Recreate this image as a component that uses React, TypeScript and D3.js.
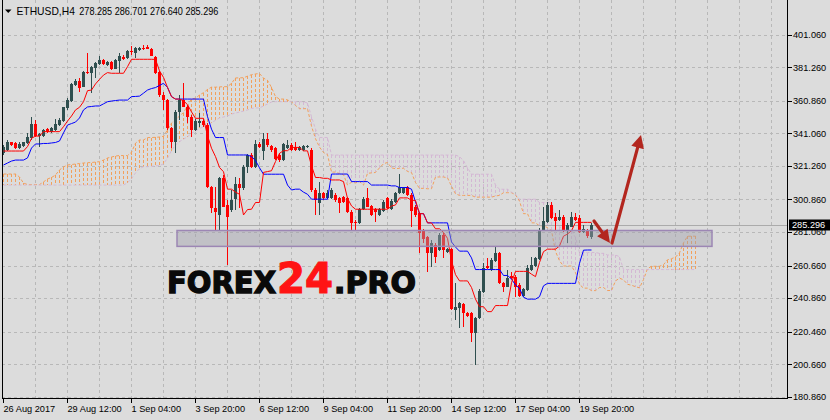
import React, { useEffect } from 'react';
import * as d3 from 'd3';

const W = 830;
const H = 420;

// ---- candle data (H4 bars) ----
const open = [328.9,330.9,335.5,335.0,331.9,333.4,335.0,338.0,346.5,339.4,339.4,343.5,342.1,343.1,346.1,348.8,356.3,360.9,370.5,373.1,369.4,378.6,377.6,380.6,383.0,385.7,382.6,384.7,380.4,385.3,387.7,386.7,391.3,390.1,391.7,393.2,393.4,392.2,387.7,378.6,364.4,361.3,344.1,336.0,354.2,361.3,357.3,351.2,343.1,347.5,348.8,346.1,308.6,295.4,291.4,313.7,297.4,294.4,300.9,310.2,307.6,320.4,327.9,320.8,334.6,330.5,337.6,333.4,331.9,327.9,324.8,331.9,334.0,333.0,330.9,330.9,332.5,330.9,306.6,298.5,305.0,301.5,301.5,303.5,301.5,302.1,301.5,293.4,287.3,286.3,294.8,301.5,296.8,294.8,291.4,294.0,301.5,294.8,299.5,304.6,304.6,308.2,303.6,296.5,292.8,282.3,277.8,268.1,273.1,270.1,279.2,269.1,270.5,233.6,234.6,237.2,232.0,231.6,219.8,228.5,244.7,260.4,257.9,263.6,268.5,250.2,247.8,254.3,253.5,248.8,242.1,245.8,257.9,260.4,264.4,282.3,287.3,297.5,290.4,288.3,290.4,282.3,284.3,290.4,289.4,281.2,282.3,278.285];
const high = [334.0,337.0,336.0,335.5,335.5,336.0,341.1,350.8,349.2,341.5,343.5,344.1,344.7,349.6,350.2,357.3,362.3,371.9,373.9,374.5,379.2,389.7,382.0,384.7,388.1,386.1,384.9,385.3,386.1,389.7,388.5,391.7,394.2,393.4,393.8,394.8,394.8,392.8,388.1,379.2,366.4,361.7,345.1,355.2,364.4,371.5,358.3,352.2,349.6,353.2,349.6,347.1,309.0,308.6,314.7,315.7,300.5,306.6,314.7,313.7,321.8,328.5,328.9,337.0,336.0,341.1,341.1,334.0,333.0,328.9,335.0,337.0,335.0,336.0,333.4,334.0,334.0,331.9,307.6,311.6,305.6,306.6,307.6,304.6,302.5,302.9,302.5,294.4,288.3,295.4,302.1,307.6,297.4,295.4,295.4,300.5,302.5,300.9,305.6,316.3,308.6,309.0,304.6,297.5,293.4,282.7,278.6,276.2,274.2,280.2,280.2,271.1,271.1,249.8,238.6,238.0,232.6,232.6,229.5,246.2,262.0,265.0,265.0,272.5,269.1,250.8,257.9,256.9,254.9,249.8,246.8,261.0,265.6,266.0,283.3,296.5,299.5,299.5,292.4,294.4,291.4,286.3,293.4,292.4,291.4,285.3,282.7,286.701];
const low = [327.9,330.5,333.4,331.3,331.3,333.0,334.6,337.0,339.0,333.0,339.0,341.5,341.5,342.7,345.5,348.1,355.3,360.3,369.9,366.4,369.0,377.2,365.4,374.5,382.6,382.4,382.0,379.6,380.0,377.6,385.7,386.1,388.7,386.7,391.3,391.7,392.2,388.1,377.2,363.3,355.3,343.1,331.9,328.9,349.2,356.9,347.1,338.6,342.7,345.1,345.1,307.6,292.4,282.2,282.2,296.0,260.9,293.4,294.4,295.4,306.6,316.7,319.8,319.8,331.9,324.8,333.0,329.9,324.8,323.8,324.4,331.3,330.5,330.5,330.5,330.5,331.9,305.6,291.4,291.4,300.5,300.9,300.9,299.5,292.8,298.5,292.8,282.2,282.2,285.9,294.4,296.0,290.8,287.3,290.8,293.4,294.8,294.4,298.9,304.2,304.2,302.9,284.3,290.4,268.1,274.2,256.9,260.0,262.0,269.7,265.0,268.5,233.6,227.5,222.4,223.4,229.1,214.3,200.1,227.9,244.1,258.3,257.5,263.0,249.4,244.7,247.4,252.2,241.7,241.7,241.7,245.4,257.5,260.0,264.0,281.9,286.7,288.7,282.3,287.9,281.2,274.2,283.9,287.9,280.6,280.2,277.2,276.640];
const close = [333.0,336.0,334.0,331.9,334.6,335.5,338.6,346.5,339.4,340.6,343.1,342.1,344.1,346.7,349.2,356.9,361.3,371.1,373.1,368.4,378.6,378.0,381.2,384.0,385.7,383.0,384.2,380.0,385.7,388.1,386.1,391.3,390.9,392.8,393.2,392.2,392.6,388.3,377.6,364.4,361.3,344.1,336.0,354.2,361.3,357.3,351.2,343.1,348.8,348.8,346.1,308.6,295.4,293.4,313.7,296.4,290.4,300.5,310.2,307.6,320.8,327.9,320.8,334.6,333.0,337.6,334.0,330.9,325.2,324.8,334.4,334.0,330.9,330.9,332.5,333.4,333.4,306.6,300.5,304.6,301.5,304.6,306.6,300.5,298.9,299.5,293.4,286.3,286.3,294.8,300.9,296.4,291.4,293.4,294.8,299.5,295.4,300.1,305.0,308.2,307.6,303.6,294.0,291.4,280.2,276.6,268.1,274.6,266.0,279.2,270.1,270.5,234.0,235.6,237.6,231.6,229.9,219.8,228.5,245.4,258.9,258.9,264.0,268.5,249.8,247.8,252.9,252.9,247.8,242.1,246.2,258.9,261.0,265.0,282.3,287.9,297.5,289.4,287.9,290.4,281.9,285.3,290.4,288.3,281.2,282.7,278.6,285.296];

// ---- Ichimoku lines ----
const tenkan = [330.3,330.3,330.3,330.3,330.3,330.3,333.0,338.0,339.4,339.4,
  342.1,342.1,342.1,342.1,342.1,345.1,348.5,351.6,355.3,356.9,
  360.3,367.0,367.4,371.1,373.9,376.5,378.0,377.6,377.6,377.6,
  377.6,381.6,386.1,386.1,386.1,386.1,386.1,386.1,386.0,379.1,
  375.1,369.0,363.4,361.9,361.9,360.9,358.5,354.1,350.2,350.2,
  350.2,339.6,332.0,326.9,320.3,317.7,307.1,307.1,305.3,304.0,
  291.4,294.7,294.9,299.0,299.0,317.3,317.8,318.3,323.9,328.9,
  330.5,330.5,332.5,332.5,332.5,330.4,330.4,321.3,314.2,314.2,
  313.7,313.7,312.7,312.7,312.7,311.7,301.5,296.9,294.9,294.9,
  294.9,294.9,294.9,294.9,294.9,294.9,294.9,296.8,297.5,301.8,
  301.8,301.8,300.3,300.3,292.2,292.2,286.6,286.6,283.0,283.0,
  280.8,277.2,263.5,255.1,251.3,251.3,251.3,247.3,240.2,235.6,
  235.6,232.6,232.6,236.3,236.3,236.3,236.3,250.2,257.1,257.1,
  257.1,257.1,255.4,253.9,262.5,269.1,270.6,270.6,270.6,272.5,
  278.5,279.8,281.8,286.9,286.9,286.9,286.9,286.9];
const kijun = [321.8,323.0,324.2,324.8,324.8,324.8,326.1,332.1,334.6,334.6,
  334.9,334.9,335.2,335.5,336.4,341.3,346.1,347.0,347.9,350.4,
  355.3,357.1,357.4,357.7,357.7,359.0,360.3,360.7,361.0,361.3,
  361.3,361.3,363.4,363.5,363.7,365.5,367.4,368.3,368.9,370.2,
  371.5,369.0,363.4,361.9,361.9,361.9,361.9,361.9,361.9,361.9,
  361.9,351.2,343.6,338.5,338.5,338.5,327.9,327.9,327.9,327.9,
  327.9,327.9,326.9,324.5,320.1,316.2,316.2,316.2,316.2,316.2,
  316.2,309.6,306.6,307.1,307.1,305.3,304.0,301.0,301.0,301.0,
  301.0,301.0,316.3,316.3,316.3,316.3,316.3,311.7,311.7,311.7,
  311.7,311.7,309.6,309.6,309.6,309.6,309.6,309.1,309.1,308.1,
  308.1,308.1,307.1,299.3,292.2,292.2,286.6,286.6,286.6,286.6,
  286.6,286.6,275.0,271.9,269.4,269.4,269.4,265.3,258.2,258.2,
  258.2,258.2,258.2,258.2,258.2,254.6,254.6,252.4,248.8,246.8,
  241.4,240.2,240.2,240.2,241.7,248.3,249.8,249.8,249.8,249.8,
  249.8,249.8,249.8,249.8,262.0,270.0,270.1,270.1];
// Senkou spans, 26 bars beyond the last candle
const spanA = [316.3,316.3,316.3,316.3,314.5,310.8,309.9,309.9,309.9,309.9,
  311.5,313.3,314.2,315.7,318.8,320.6,321.8,322.1,322.4,322.7,
  323.0,323.2,323.3,323.6,323.8,324.8,
  326.05,326.65,327.25,327.55,327.55,327.55,329.55,335.05,337.0,337.0,
  338.5,338.5,338.65,338.8,339.25,343.2,347.3,349.3,351.6,353.65,
  357.8,362.05,362.4,364.4,365.8,367.75,369.15,369.15,369.3,369.45,
  369.45,371.45,374.75,374.8,374.9,375.8,376.75,377.2,377.45,374.65,
  373.3,369.0,363.4,361.9,361.9,361.4,360.2,358.0,356.05,356.05,
  356.05,345.4,337.8,332.7,329.4,328.1,317.5,317.5,316.6,315.95,
  309.65,311.3,310.9,311.75,309.55,316.75,317.0,317.25,320.05,322.55,
  323.35,320.05,319.55,319.8,319.8,317.85,317.2,311.15,307.6,307.6,
  307.35,307.35,314.5,314.5,314.5,314.0,308.9,304.3,303.3,303.3,
  303.3,303.3,302.25,302.25,302.25,302.25,302.25,302.95,303.3,304.95,
  304.95,304.95,303.7,299.8,292.2,292.2,286.6,286.6,284.8,284.8,
  283.7,281.9,269.25,263.5,260.35,260.35,260.35,256.3,249.2,246.9,
  246.9,245.4,245.4,247.25,247.25,245.45,245.45,251.3,252.95,251.95,
  249.25,248.65,247.8,247.05,252.1,258.7,260.2,260.2,260.2,261.15,
  264.15,264.8,265.8,268.35,274.45,278.45,278.5,278.5];
const spanB = [309.6,309.6,309.6,309.6,309.6,309.6,309.6,309.6,309.6,309.6,
  309.6,309.6,309.6,309.6,309.6,309.6,309.6,309.6,309.6,309.6,
  309.6,309.6,309.6,309.6,309.6,309.6,309.6,309.6,309.6,309.6,
  309.6,311.0,313.5,317.0,319.5,320.8,320.8,321.0,321.2,321.5,
  322.5,326.0,330.5,334.0,336.0,337.5,339.0,341.0,342.5,344.0,
  345.0,346.0,347.5,349.0,350.4,351.0,351.6,352.8,353.4,354.0,
  354.6,355.3,356.2,356.5,356.5,357.7,358.9,360.1,360.3,360.3,
  360.3,360.3,360.3,360.3,360.3,360.3,359.5,351.2,343.6,338.5,
  338.5,338.5,327.85,327.85,327.85,327.85,327.85,327.85,327.85,327.85,
  327.85,327.85,327.85,327.85,327.85,327.85,327.85,327.85,327.85,327.85,
  327.85,327.85,327.85,327.85,327.85,327.85,327.85,327.85,327.85,327.85,
  327.85,327.85,327.85,327.85,326.85,324.5,320.05,316.2,316.2,316.2,
  316.2,316.2,316.2,309.6,307.05,307.05,307.05,305.25,304.0,301.0,
  301.0,301.0,301.0,301.0,299.0,299.0,299.0,299.0,287.35,284.3,
  281.75,281.75,281.75,277.7,268.55,268.55,268.55,268.55,268.55,268.05,
  268.05,267.05,267.05,267.05,266.0,258.2,258.2,258.2,258.2,258.2,
  258.2,258.2,258.2,258.2,258.2,258.2,258.2,258.2,258.2,258.2,
  258.2,258.2,258.2,258.2];

// ---- axes ----
const priceTicks = [401.06, 381.26, 360.86, 341.06, 321.26, 300.86, 281.06, 260.66, 240.86, 220.46, 200.66, 180.86];
const timeLabels = ['26 Aug 2017', '29 Aug 12:00', '1 Sep 04:00', '3 Sep 20:00', '6 Sep 12:00', '9 Sep 04:00', '11 Sep 20:00', '14 Sep 12:00', '17 Sep 04:00', '19 Sep 20:00'];
const timeLabelBars = [0, 16, 32, 48, 64, 80, 96, 112, 128, 144];
const gridBars = [8, 16, 24, 32, 40, 48, 56, 64, 72, 80, 88, 96, 104, 112, 120, 128, 136, 144, 152, 160, 168, 176, 184, 192];

// ---- annotations (bar index, price) ----
const zoneBars = [43.5, 177.25];
const zonePrices = [281.96, 272.3];
const arrowFrom = [[147.75, 287.74], [152.25, 274.35]];
const arrowTo = [[151.75, 274.35], [159.5, 340.05]];

const header = { symbol: 'ETHUSD,H4', ohlc: '278.285 286.701 276.640 285.296' };
const lastPrice = 285.296;

const PL = 2, PR = 787, PB = 398;
const FONT = "'Liberation Sans', Arial, sans-serif";

export default function App() {
  useEffect(() => { document.body.style.margin = '0'; }, []);

  const x = d3.scaleLinear().domain([0, 147]).range([3, 591]);
  const y = d3.scaleLinear().domain([180.86, 401.06]).range([396.7, 34.7]);

  const line = d3.line<number>().x((_, i) => x(i) + 0.5).y(v => y(v));

  const bull = '#2F4F4F';
  const bear = '#FF0000';
  const arrowColor = '#B3261E';

  const arrowHead = (x1: number, y1: number, x2: number, y2: number, len: number, hw: number) => {
    const dx = x2 - x1, dy = y2 - y1, L = Math.hypot(dx, dy);
    const ux = dx / L, uy = dy / L;
    const bx = x2 - ux * len, by = y2 - uy * len;
    return { pts: `${x2},${y2} ${bx - uy * hw},${by + ux * hw} ${bx + uy * hw},${by - ux * hw}`, bx, by };
  };

  return (
    <svg width={W} height={H} style={{ position: 'absolute', left: 0, top: 0, display: 'block' }}
      xmlns="http://www.w3.org/2000/svg">
      <rect x={0} y={0} width={W} height={H} fill="#DCDCDC" />
      <defs>
        <clipPath id="plot"><rect x={PL} y={0} width={PR - PL} height={PB} /></clipPath>
      </defs>

      {/* grid */}
      <g stroke="#B8B8B8" strokeWidth={1} strokeDasharray="3,3" shapeRendering="crispEdges">
        {priceTicks.map((p, i) => (
          <line key={'h' + i} x1={PL} x2={PR} y1={Math.round(y(p)) + 0.5} y2={Math.round(y(p)) + 0.5} />
        ))}
        {gridBars.map((b, i) => (
          <line key={'v' + i} x1={x(b) + 0.5} x2={x(b) + 0.5} y1={0} y2={PB} />
        ))}
      </g>

      <g clipPath="url(#plot)">
        {/* cloud hatch */}
        <g strokeWidth={1} strokeDasharray="3,2" shapeRendering="crispEdges">
          {spanA.map((a, j) => {
            const b = spanB[j];
            const top = Math.min(y(a), y(b));
            const bot = Math.max(y(a), y(b));
            if (bot - top < 1) return null;
            return <line key={'c' + j} x1={x(j) + 0.5} x2={x(j) + 0.5} y1={top} y2={bot}
              stroke={a >= b ? '#F2A05C' : '#D4B8D4'} />;
          })}
        </g>
        <path d={line(spanA) || ''} fill="none" stroke="#F2A05C" strokeWidth={1} strokeDasharray="3,2" />
        <path d={line(spanB) || ''} fill="none" stroke="#D4B8D4" strokeWidth={1} strokeDasharray="3,2" />

        {/* bid line */}
        <line x1={PL} x2={PR} y1={Math.round(y(lastPrice)) + 0.5} y2={Math.round(y(lastPrice)) + 0.5}
          stroke="#ABABAB" strokeWidth={1} shapeRendering="crispEdges" />

        {/* candles */}
        <g shapeRendering="crispEdges">
          {open.map((o, i) => {
            const c = close[i];
            const up = c >= o;
            const col = up ? bull : bear;
            const xi = Math.round(x(i));
            const yt = y(Math.max(o, c));
            const yb = y(Math.min(o, c));
            return (
              <g key={'k' + i}>
                <rect x={xi} y={y(high[i])} width={1} height={Math.max(1, y(low[i]) - y(high[i]))} fill={col} />
                <rect x={xi - 1} y={yt} width={3} height={Math.max(1, yb - yt)} fill={col} />
              </g>
            );
          })}
        </g>

        {/* tenkan / kijun */}
        <path d={line(kijun) || ''} fill="none" stroke="#0000FF" strokeWidth={1} />
        <path d={line(tenkan) || ''} fill="none" stroke="#FF0000" strokeWidth={1} />

        {/* zone rectangle */}
        <rect x={x(zoneBars[0])} y={y(zonePrices[0])} width={x(zoneBars[1]) - x(zoneBars[0])}
          height={y(zonePrices[1]) - y(zonePrices[0])} fill="rgba(160,160,170,0.45)"
          stroke="#9C86B4" strokeWidth={1.5} />

        {/* arrows */}
        {arrowFrom.map((f, k) => {
          const x1 = x(f[0]), y1 = y(f[1]);
          const x2 = x(arrowTo[k][0]), y2 = y(arrowTo[k][1]);
          const h = arrowHead(x1, y1, x2, y2, 13, 6.5);
          return (
            <g key={'a' + k}>
              <line x1={x1} y1={y1} x2={h.bx} y2={h.by} stroke={arrowColor} strokeWidth={3.2} strokeLinecap="round" />
              <polygon points={h.pts} fill={arrowColor} />
            </g>
          );
        })}

        {/* watermark */}
        <g fontFamily="'DejaVu Sans', sans-serif" fontWeight="bold">
          <text x={167} y={292.5} fontSize={31} textLength={109} lengthAdjust="spacingAndGlyphs"
            fill="#0A0A0A" stroke="#0A0A0A" strokeWidth={1.4}>FOREX</text>
          <text x={277} y={292.5} fontSize={42} textLength={56} lengthAdjust="spacingAndGlyphs"
            fill="#FF1414" stroke="#FF1414" strokeWidth={1.2}>24</text>
          <text x={334} y={292.5} fontSize={31} textLength={82} lengthAdjust="spacingAndGlyphs"
            fill="#0A0A0A" stroke="#0A0A0A" strokeWidth={1.4}>.PRO</text>
        </g>
      </g>

      {/* frame / axes */}
      <g stroke="#000" strokeWidth={1} shapeRendering="crispEdges">
        <line x1={PL + 0.5} x2={PL + 0.5} y1={0} y2={PB + 0.5} />
        <line x1={PL} x2={PR + 0.5} y1={PB + 0.5} y2={PB + 0.5} />
        <line x1={PR + 0.5} x2={PR + 0.5} y1={0} y2={PB + 0.5} />
        {priceTicks.map((p, i) => (
          <line key={'pt' + i} x1={PR} x2={PR + 5} y1={Math.round(y(p)) + 0.5} y2={Math.round(y(p)) + 0.5} />
        ))}
        {timeLabelBars.map((b, i) => (
          <line key={'tt' + i} x1={x(b) + 0.5} x2={x(b) + 0.5} y1={PB} y2={PB + 5} />
        ))}
      </g>

      <g fontFamily={FONT} fontSize={9.2} fill="#000">
        {priceTicks.map((p, i) => (
          <text key={'pl' + i} x={793} y={y(p) + 3.4}>{p.toFixed(3)}</text>
        ))}
        {timeLabels.map((t, i) => (
          <text key={'tl' + i} x={x(timeLabelBars[i]) + 0.5} y={412.3}>{t}</text>
        ))}
      </g>

      {/* last price label */}
      <rect x={789} y={Math.round(y(lastPrice)) - 5.5} width={41} height={11} fill="#000" />
      <text x={792} y={y(lastPrice) + 3.4} fontFamily={FONT} fontSize={9.2} fill="#FFF">{lastPrice.toFixed(3)}</text>

      {/* header */}
      <polygon points="5,9.5 11.5,9.5 8.25,13" fill="#000" />
      <text x={16.5} y={15} fontFamily={FONT} fontSize={10.3} fill="#000">{header.symbol}</text>
      <text x={79.3} y={15} fontFamily={FONT} fontSize={10.3} fill="#000" textLength={139}
        lengthAdjust="spacingAndGlyphs">{header.ohlc}</text>
    </svg>
  );
}
